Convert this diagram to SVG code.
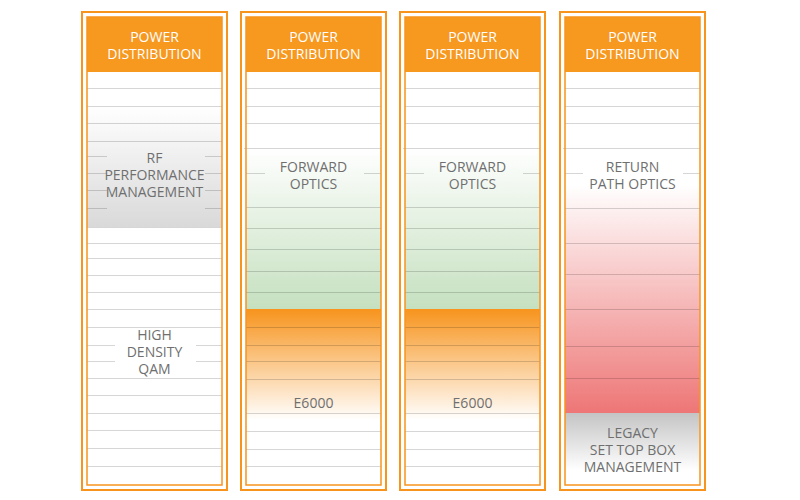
<svg xmlns="http://www.w3.org/2000/svg" width="800" height="500" viewBox="0 0 800 500">
<defs>
<linearGradient id="gGray" x1="0" y1="0" x2="0" y2="1"><stop offset="0" stop-color="#ffffff"/><stop offset="1" stop-color="#d9d9d9"/></linearGradient>
<linearGradient id="gGreen" x1="0" y1="0" x2="0" y2="1"><stop offset="0" stop-color="#ffffff"/><stop offset="1" stop-color="#c5e0bf"/></linearGradient>
<linearGradient id="gOrange" x1="0" y1="0" x2="0" y2="1"><stop offset="0" stop-color="#f7941d"/><stop offset="1" stop-color="#ffffff"/></linearGradient>
<linearGradient id="gRed" x1="0" y1="0" x2="0" y2="1"><stop offset="0" stop-color="#ffffff"/><stop offset="1" stop-color="#ee7676"/></linearGradient>
<linearGradient id="gLegacy" x1="0" y1="0" x2="0" y2="1"><stop offset="0" stop-color="#c4c4c4"/><stop offset="0.8" stop-color="#ffffff"/><stop offset="1" stop-color="#ffffff"/></linearGradient>
<style>
.outer{fill:none;stroke:#f7941d;stroke-width:2}
.inner{fill:none;stroke:#f7941d;stroke-width:1.5}
.hdr{fill:#f7981f}
.ln{stroke:#000;stroke-opacity:0.16;stroke-width:1}
.ht{font-family:"Open Sans","Liberation Sans",sans-serif;font-size:14px;fill:#ffffff;text-anchor:middle}
.lt{font-family:"Open Sans","Liberation Sans",sans-serif;font-size:14px;fill:#6f6f6f;text-anchor:middle}
</style>
</defs>
<rect width="800" height="500" fill="#ffffff"/>

<g id="col1">
<rect x="87" y="106" width="135" height="121" fill="url(#gGray)"/>
<path class="ln" d="M87 88.5H222M87 106.5H222M87 123.5H222M87 141.5H222M87 227.5H222M87 243.5H222M87 258.5H222M87 275.5H222M87 292.5H222M87 309.5H222M87 327.5H222M87 378.5H222M87 395.5H222M87 413.5H222M87 430.5H222M87 448.5H222M87 466.5H222"/>
<path class="ln" d="M87 156.5H107M205 156.5H222M87 173.5H107M205 173.5H222M87 190.5H107M205 190.5H222M87 208.5H107M205 208.5H222M87 345.5H115M196 345.5H222M87 361.5H115M196 361.5H222"/>
<rect class="hdr" x="87" y="17" width="135" height="55"/>
<text class="ht" x="154.5" y="42">POWER</text>
<text class="ht" x="154.5" y="59">DISTRIBUTION</text>
<text class="lt" x="154.5" y="163">RF</text>
<text class="lt" x="154.5" y="180">PERFORMANCE</text>
<text class="lt" x="154.5" y="197">MANAGEMENT</text>
<text class="lt" x="154.5" y="340">HIGH</text>
<text class="lt" x="154.5" y="357">DENSITY</text>
<text class="lt" x="154.5" y="374">QAM</text>
<rect class="inner" x="87" y="17" width="135" height="468"/>
<rect class="outer" x="82" y="12" width="145" height="478"/>
</g>

<g id="col2" transform="translate(159,0)">
<rect x="87" y="148" width="135" height="161" fill="url(#gGreen)"/>
<rect x="87" y="309" width="135" height="111" fill="url(#gOrange)"/>
<path class="ln" d="M87 88.5H222M87 106.5H222M87 123.5H222M85 148.5H222M87 207.5H222M87 228.5H222M87 249.5H222M87 271.5H222M87 292.5H222M87 327.5H222M87 345.5H222M87 361.5H222M87 379.5H222M87 413.5H222M87 431.5H222M87 449.5H222M87 466.5H222"/>
<path class="ln" d="M87 173.5H106M205 173.5H222"/>
<rect class="hdr" x="87" y="17" width="135" height="55"/>
<text class="ht" x="154.5" y="42">POWER</text>
<text class="ht" x="154.5" y="59">DISTRIBUTION</text>
<text class="lt" x="154.5" y="172">FORWARD</text>
<text class="lt" x="154.5" y="189">OPTICS</text>
<text class="lt" x="154.5" y="408">E6000</text>
<rect class="inner" x="87" y="17" width="135" height="468"/>
<rect class="outer" x="82" y="12" width="145" height="478"/>
</g>

<g id="col3" transform="translate(318,0)">
<rect x="87" y="148" width="135" height="161" fill="url(#gGreen)"/>
<rect x="87" y="309" width="135" height="111" fill="url(#gOrange)"/>
<path class="ln" d="M87 88.5H222M87 106.5H222M87 123.5H222M85 148.5H222M87 207.5H222M87 228.5H222M87 249.5H222M87 271.5H222M87 292.5H222M87 327.5H222M87 345.5H222M87 361.5H222M87 379.5H222M87 413.5H222M87 431.5H222M87 449.5H222M87 466.5H222"/>
<path class="ln" d="M87 173.5H106M205 173.5H222"/>
<rect class="hdr" x="87" y="17" width="135" height="55"/>
<text class="ht" x="154.5" y="42">POWER</text>
<text class="ht" x="154.5" y="59">DISTRIBUTION</text>
<text class="lt" x="154.5" y="172">FORWARD</text>
<text class="lt" x="154.5" y="189">OPTICS</text>
<text class="lt" x="154.5" y="408">E6000</text>
<rect class="inner" x="87" y="17" width="135" height="468"/>
<rect class="outer" x="82" y="12" width="145" height="478"/>
</g>

<g id="col4" transform="translate(478,0)">
<rect x="87" y="185" width="135" height="228" fill="url(#gRed)"/>
<rect x="87" y="413" width="135" height="72" fill="url(#gLegacy)"/>
<path class="ln" d="M87 88.5H222M87 106.5H222M87 123.5H222M85 148.5H222M87 208.5H222M87 243.5H222M87 274.5H222M87 309.5H222M87 346.5H222M87 378.5H222"/>
<path class="ln" d="M87 173.5H105M205 173.5H222"/>
<rect class="hdr" x="87" y="17" width="135" height="55"/>
<text class="ht" x="154.5" y="42">POWER</text>
<text class="ht" x="154.5" y="59">DISTRIBUTION</text>
<text class="lt" x="154.5" y="172">RETURN</text>
<text class="lt" x="154.5" y="189">PATH OPTICS</text>
<text class="lt" x="154.5" y="438">LEGACY</text>
<text class="lt" x="154.5" y="455">SET TOP BOX</text>
<text class="lt" x="154.5" y="472">MANAGEMENT</text>
<rect class="inner" x="87" y="17" width="135" height="468"/>
<rect class="outer" x="82" y="12" width="145" height="478"/>
</g>
</svg>
